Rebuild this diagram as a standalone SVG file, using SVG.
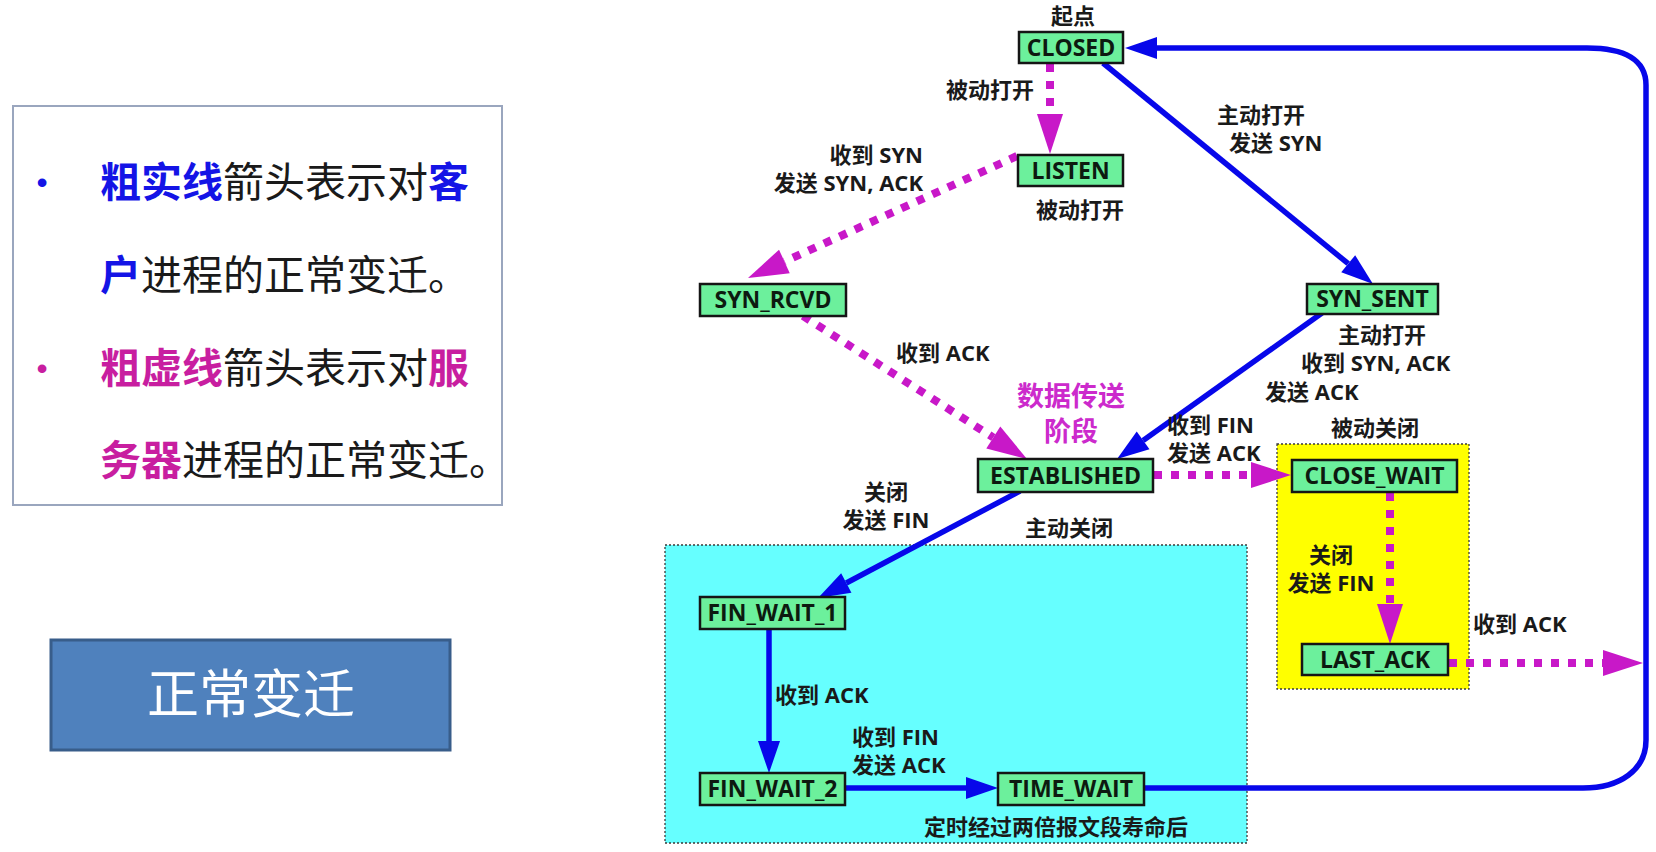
<svg xmlns="http://www.w3.org/2000/svg" width="1656" height="852" viewBox="0 0 1656 852">
<defs>
<style>
.cj{font-family:"Noto Sans CJK SC","Noto Sans",sans-serif}
.big{font-size:41px}
.b{font-weight:bold}
.blue{fill:#1414E6}
.mag{fill:#C81EA0}
.blk{fill:#1a1a1a}
.node rect{fill:#6CF09C;stroke:#151515;stroke-width:2.5}
.node text{font-family:"Open Sans","Liberation Sans",sans-serif;font-weight:bold;font-size:23px;fill:#0d1a10;text-anchor:middle}
.lbl{font-family:"Open Sans","Noto Sans CJK SC",sans-serif;font-weight:bold;font-size:22px;fill:#1a1a1a}
.mid{text-anchor:middle}
.end{text-anchor:end}
.st{text-anchor:start}
.sol{fill:none;stroke:#0707EA;stroke-width:5.5}
.dash{fill:none;stroke:#C818C8;stroke-width:8;stroke-dasharray:8 9}
.region{stroke:#3a3a3a;stroke-width:1.3;stroke-dasharray:2 2}
</style>
<marker id="ab" markerUnits="userSpaceOnUse" markerWidth="32" markerHeight="24" refX="0" refY="12" orient="auto" overflow="visible">
<path d="M0,1 L32,12 L0,23 z" fill="#0707EA"/>
</marker>
<marker id="am" markerUnits="userSpaceOnUse" markerWidth="40" markerHeight="28" refX="0" refY="14" orient="auto" overflow="visible">
<path d="M0,1 L40,14 L0,27 z" fill="#C818C8"/>
</marker>
</defs>
<rect width="1656" height="852" fill="#ffffff"/>

<g id="legend">
<rect x="13" y="106" width="489" height="399" fill="#ffffff" stroke="#9AA6BE" stroke-width="2"/>
<text x="42" y="193" class="blue" font-family="Liberation Sans, sans-serif" font-size="32" text-anchor="middle">•</text>
<text x="100" y="197" class="cj big"><tspan class="b blue">粗实线</tspan><tspan class="blk">箭头表示对</tspan><tspan class="b blue">客</tspan></text>
<text x="100" y="290" class="cj big"><tspan class="b blue">户</tspan><tspan class="blk">进程的正常变迁。</tspan></text>
<text x="42" y="379" class="mag" font-family="Liberation Sans, sans-serif" font-size="32" text-anchor="middle">•</text>
<text x="100" y="383" class="cj big"><tspan class="b mag">粗虚线</tspan><tspan class="blk">箭头表示对</tspan><tspan class="b mag">服</tspan></text>
<text x="100" y="475" class="cj big"><tspan class="b mag">务器</tspan><tspan class="blk">进程的正常变迁。</tspan></text>
</g>

<g id="button">
<rect x="51" y="640" width="399" height="110" fill="#4F81BD" stroke="#385D8A" stroke-width="3"/>
<text x="251" y="713" class="cj" font-size="52" fill="#ffffff" text-anchor="middle">正常变迁</text>
</g>

<g id="regions">
<rect id="active-close-region" class="region" x="665" y="545" width="582" height="298" fill="#66FFFF"/>
<rect id="passive-close-region" class="region" x="1277" y="444" width="192" height="245" fill="#FFFF00"/>
</g>

<g id="connectors">
<path class="dash" d="M1050,64 L1050,114" marker-end="url(#am)"/>
<path class="dash" d="M1017,156 L784.4,261.5" marker-end="url(#am)"/>
<path class="dash" d="M803,316 L993.3,437.5" marker-end="url(#am)"/>
<path class="dash" d="M1154,475 L1251,475" marker-end="url(#am)"/>
<path class="dash" d="M1390,493 L1390,604" marker-end="url(#am)"/>
<path class="dash" d="M1449,663 L1603,663" marker-end="url(#am)"/>
<path class="sol" d="M1103,63 L1348.2,263.7" marker-end="url(#ab)"/>
<path class="sol" d="M1322,313 L1143.1,440.4" marker-end="url(#ab)"/>
<path class="sol" d="M1020,491 L846.3,583" marker-end="url(#ab)"/>
<path class="sol" d="M769,630 L769,741" marker-end="url(#ab)"/>
<path class="sol" d="M845,788 L966,788" marker-end="url(#ab)"/>
<path class="sol" d="M1144,788 L1583,788 C1620,788 1646,770 1646,740 L1646,85 C1646,60 1625,48 1587,48 L1157,48" marker-end="url(#ab)"/>
</g>

<g id="CLOSED" class="node"><rect x="1019" y="32" width="104" height="31"/><text x="1071" y="56">CLOSED</text></g>
<g id="LISTEN" class="node"><rect x="1018" y="155" width="105" height="31"/><text x="1070.5" y="179">LISTEN</text></g>
<g id="SYN_RCVD" class="node"><rect x="700" y="284" width="146" height="32"/><text x="773" y="308">SYN_RCVD</text></g>
<g id="SYN_SENT" class="node"><rect x="1307" y="284" width="131" height="30"/><text x="1372.5" y="307">SYN_SENT</text></g>
<g id="ESTABLISHED" class="node"><rect x="978" y="459" width="175" height="33"/><text x="1065.5" y="484">ESTABLISHED</text></g>
<g id="CLOSE_WAIT" class="node"><rect x="1292" y="460" width="165" height="32"/><text x="1374.5" y="484">CLOSE_WAIT</text></g>
<g id="LAST_ACK" class="node"><rect x="1302" y="644" width="146" height="31"/><text x="1375" y="668">LAST_ACK</text></g>
<g id="FIN_WAIT_1" class="node"><rect x="700" y="597" width="145" height="32"/><text x="772.5" y="621">FIN_WAIT_1</text></g>
<g id="FIN_WAIT_2" class="node"><rect x="700" y="773" width="145" height="32"/><text x="772.5" y="797">FIN_WAIT_2</text></g>
<g id="TIME_WAIT" class="node"><rect x="998" y="773" width="146" height="32"/><text x="1071" y="797">TIME_WAIT</text></g>

<g id="labels">
<text class="lbl mid" x="1073" y="24">起点</text>
<text class="lbl end" x="1034" y="98">被动打开</text>
<text class="lbl" x="1036" y="218">被动打开</text>
<text class="lbl"><tspan x="1217" y="123">主动打开</tspan><tspan x="1229" y="151">发送 SYN</tspan></text>
<text class="lbl end"><tspan x="923" y="163">收到 SYN</tspan><tspan x="923" y="191">发送 SYN, ACK</tspan></text>
<text class="lbl" x="896" y="361">收到 ACK</text>
<text class="lbl mid" style="font-size:27px;fill:#CC2ACC"><tspan x="1071" y="406">数据传送</tspan><tspan x="1071" y="441">阶段</tspan></text>
<text class="lbl"><tspan class="mid" x="1382" y="343">主动打开</tspan><tspan class="st" x="1301" y="371">收到 SYN, ACK</tspan><tspan class="st" x="1265" y="400">发送 ACK</tspan></text>
<text class="lbl"><tspan x="1167" y="433">收到 FIN</tspan><tspan x="1167" y="461">发送 ACK</tspan></text>
<text class="lbl mid" x="1375" y="436">被动关闭</text>
<text class="lbl mid"><tspan x="1331" y="563">关闭</tspan><tspan x="1331" y="591">发送 FIN</tspan></text>
<text class="lbl" x="1473" y="632">收到 ACK</text>
<text class="lbl mid"><tspan x="886" y="500">关闭</tspan><tspan x="886" y="528">发送 FIN</tspan></text>
<text class="lbl mid" x="1069" y="536">主动关闭</text>
<text class="lbl" x="775" y="703">收到 ACK</text>
<text class="lbl"><tspan x="852" y="745">收到 FIN</tspan><tspan x="852" y="773">发送 ACK</tspan></text>
<text class="lbl" x="924" y="835">定时经过两倍报文段寿命后</text>
</g>
</svg>
